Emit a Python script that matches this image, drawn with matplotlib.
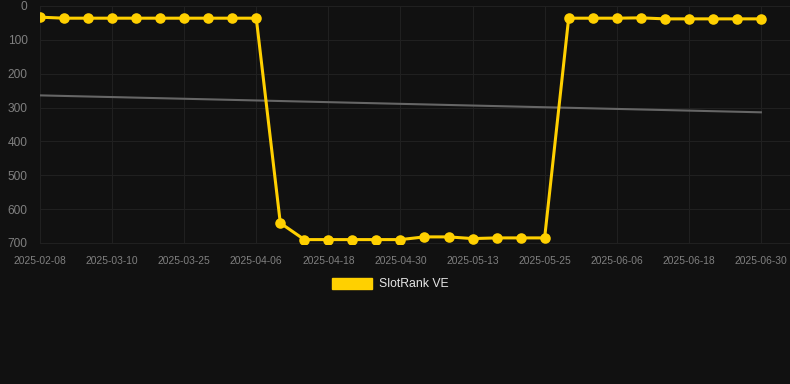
import matplotlib
matplotlib.use("Agg")
import matplotlib.pyplot as plt
from matplotlib.patches import Patch


# rank per snapshot (category axis, one point every ~4 days)
ranks = [33, 36, 36, 36, 36, 36, 36, 36, 36, 36,
         641, 690, 690, 690, 690, 690, 682, 682, 687, 685,
         685, 685, 36, 36, 36, 35, 38, 38, 38, 38, 38]
trend_start = 264
trend_end = 314
tick_labels = ["2025-02-08", "2025-03-10", "2025-03-25", "2025-04-06",
               "2025-04-18", "2025-04-30", "2025-05-13", "2025-05-25",
               "2025-06-06", "2025-06-18", "2025-06-30"]
series_name = "SlotRank VE"

BG = "#111111"
GOLD = "#ffd000"
TICK = "#808080"
GRID = "#202020"


def main() -> None:
    fig = plt.figure(figsize=(7.9, 3.84), dpi=100, facecolor=BG)
    ax = fig.add_axes([40 / 790, 1 - 244 / 384, 750 / 790, 238 / 384])
    ax.set_facecolor(BG)

    n = len(ranks)
    xs = list(range(n))
    ax.plot([0, n - 1], [trend_start, trend_end], color="#666666", lw=1.5, zorder=2)
    ax.plot(xs, ranks, color=GOLD, lw=2.2, marker="o", ms=7.6,
            markeredgewidth=0, zorder=3)

    ax.set_xlim(0, 750 / 24.03)
    ax.set_ylim(703, 0)
    ax.set_yticks(range(0, 701, 100))
    ax.set_xticks(xs[::3])
    ax.set_xticklabels(tick_labels)

    for s in ax.spines.values():
        s.set_visible(False)
    ax.grid(True, color=GRID, lw=0.8)
    ax.tick_params(length=0, colors=TICK)
    ax.tick_params(axis="x", labelsize=7.4, pad=9)
    ax.tick_params(axis="y", labelsize=8.6, pad=9)
    for lab in ax.get_xticklabels() + ax.get_yticklabels():
        lab.set_family(["Liberation Sans", "DejaVu Sans"])

    leg = fig.legend(handles=[Patch(color=GOLD, label=series_name)],
                     loc="center", bbox_to_anchor=(390 / 790, 1 - 284 / 384),
                     frameon=False, handlelength=3.3, handleheight=1.0,
                     handletextpad=0.55,
                     prop={"family": "Liberation Sans", "size": 8.8})
    for t in leg.get_texts():
        t.set_color("#e6e6e6")

    fig.savefig("out.png", dpi=100, facecolor=BG)


if __name__ == "__main__":
    main()
